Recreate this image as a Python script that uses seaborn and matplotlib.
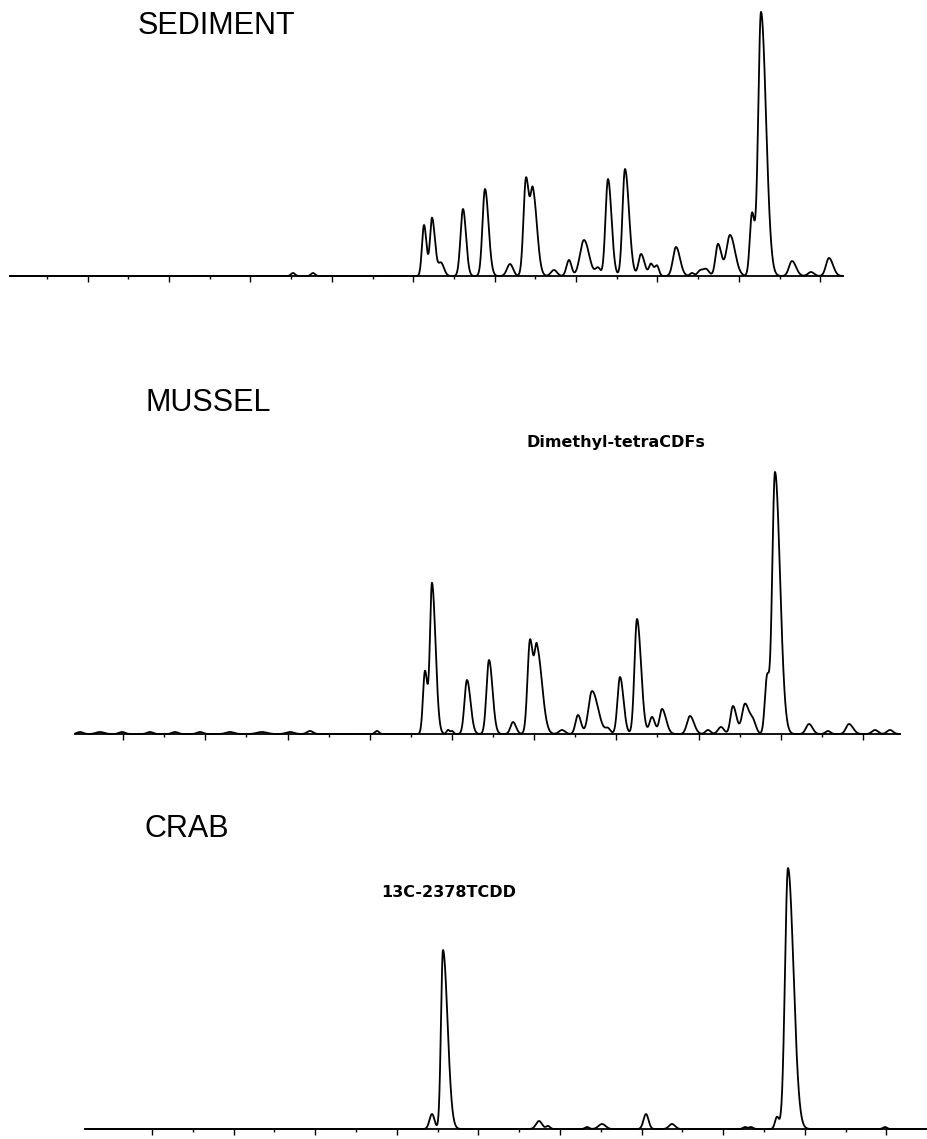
import numpy as np
import pandas as pd
import matplotlib
matplotlib.use("Agg")
import matplotlib.pyplot as plt
import seaborn as sns

# figure size in pixels (dpi 100)
W, H = 927, 1139

# peaks: (retention, height, left width, right width)
sediment_peaks = [
    (293, 3, 2, 2), (313, 3, 2, 2),
    (424, 51, 2, 2.5), (432, 58, 2, 3), (441, 13, 2.5, 3), (463, 67, 2.5, 3),
    (485, 87, 2.5, 3.5), (510, 12, 3, 3), (526, 97, 2.5, 3), (533, 82, 2.5, 4),
    (554, 6, 3, 3), (569, 16, 2.5, 2.5), (584, 36, 4, 5), (598, 8, 2.5, 2.5),
    (608, 97, 2.5, 3.5), (625, 107, 2.5, 4), (641, 22, 2.5, 3.5), (651, 12, 2, 2.5),
    (657, 10, 2, 2), (676, 29, 3, 4), (692, 3, 2, 2), (700, 5, 2.5, 2.5),
    (706, 7, 3, 3), (718, 32, 2.5, 3.5), (730, 41, 3.5, 5), (752, 62, 2.2, 2.5),
    (761, 264, 2.8, 5), (792, 15, 3, 4), (811, 4, 3, 3), (829, 18, 3, 4),
]
mussel_peaks = [
    (80, 2, 3, 3), (100, 2, 4, 4), (122, 2, 3, 3), (150, 2, 3, 3), (175, 2, 3, 3),
    (200, 2, 3, 3), (230, 2, 4, 4), (262, 2, 5, 5), (290, 2, 4, 4), (310, 3, 3, 3),
    (377, 3, 2, 2),
    (425, 63, 2, 2.5), (432, 150, 2, 3.5), (448, 4, 1.5, 1.5), (452, 3, 1.5, 1.5),
    (467, 54, 2.5, 3.5), (489, 74, 2.5, 3.5), (513, 12, 2.5, 3), (530, 93, 2.5, 3),
    (537, 84, 2.5, 5), (562, 4, 3, 3), (578, 19, 2.5, 3), (592, 43, 3.5, 6),
    (608, 5, 2.5, 2.5), (620, 57, 2.5, 3.5), (637, 115, 2.5, 4), (652, 17, 2.5, 3),
    (662, 25, 2.5, 4), (690, 18, 3, 4), (708, 4, 2.5, 2.5), (721, 7, 3, 3),
    (733, 28, 2.5, 3.5), (745, 30, 3, 4), (753, 12, 3, 3), (767, 55, 2.2, 2.2),
    (775, 262, 2.8, 5), (809, 10, 3, 3.5), (828, 3, 2.5, 2.5), (849, 10, 3, 4),
    (875, 4, 3, 3), (890, 4, 3, 3),
]
crab_peaks = [
    (432, 15, 2.5, 2.5), (443, 179, 2, 4.5), (539, 8, 3, 3), (548, 3, 2, 2),
    (587, 2, 2, 2), (602, 5, 3.5, 3.5), (646, 15, 2.5, 2.5), (672, 5, 3, 3),
    (745, 2, 2, 2), (751, 2, 2, 2), (777, 12, 2, 2), (788, 261, 3, 5.5),
    (885, 2, 2, 2),
]

# time axis ticks (major = long, minor = short)
sediment_major = [88, 169, 250, 332, 413, 495, 576, 657, 739, 820]
sediment_minor = [47, 128, 210, 291, 373, 454, 535, 617, 698, 780]
mussel_major = [123, 205, 288, 370, 452, 534, 616, 699, 781, 863]
mussel_minor = [164, 246, 329, 411, 493, 575, 657, 740, 822]
crab_major = [152, 234, 315, 397, 478, 560, 642, 723, 805, 886]
crab_minor = [193, 274, 356, 438, 519, 601, 682, 764, 846]

sample_names = ["SEDIMENT", "MUSSEL", "CRAB"]
peak_labels = ["Dimethyl-tetraCDFs", "13C-2378TCDD"]


def make_trace(peaks, x0, x1):
    """Sum the peaks (split gaussians) into one detector trace."""
    x = np.linspace(x0, x1, int((x1 - x0) * 8))
    y = np.zeros_like(x)
    for c, h, sl, sr in peaks:
        s = np.where(x < c, sl, sr)
        y += h * np.exp(-0.5 * ((x - c) / s) ** 2)
    return pd.DataFrame({"rt": x, "signal": y})


sns.set_theme(style="ticks")
plt.rcParams["font.family"] = ["Liberation Sans", "DejaVu Sans"]

fig = plt.figure(figsize=(W / 100, H / 100), dpi=100)
fig.patch.set_facecolor("white")

# (peaks, trace start, trace end, baseline row, top row, major, minor)
panels = [
    (sediment_peaks, 10, 843, 276, 0, sediment_major, sediment_minor),
    (mussel_peaks, 75, 900, 734, 300, mussel_major, mussel_minor),
    (crab_peaks, 85, 927, 1129, 760, crab_major, crab_minor),
]

for peaks, x0, x1, base, top, major, minor in panels:
    pad = 8
    ax = fig.add_axes([0, 1 - (base + pad) / H, 1, (base + pad - top) / H])
    ax.set_xlim(0, W)
    ax.set_ylim(-pad, base - top)
    df = make_trace(peaks, x0, x1)
    sns.lineplot(data=df, x="rt", y="signal", ax=ax, color="black",
                 linewidth=1.3, estimator=None, sort=False)
    for side in ["top", "left", "right"]:
        ax.spines[side].set_visible(False)
    ax.spines["bottom"].set_position(("data", 0))
    ax.spines["bottom"].set_bounds(x0, x1)
    ax.spines["bottom"].set_linewidth(1.3)
    ax.spines["bottom"].set_color("black")
    ax.set_xticks(major)
    ax.set_xticks(minor, minor=True)
    ax.tick_params(axis="x", which="major", direction="out", length=4.5,
                   width=1.0, color="black", labelbottom=False)
    ax.tick_params(axis="x", which="minor", direction="out", length=2.2,
                   width=1.0, color="black", bottom=True)
    ax.set_yticks([])
    ax.set_xlabel("")
    ax.set_ylabel("")
    ax.patch.set_alpha(0)


def put_text(s, x, y, **kw):
    fig.text(x / W, 1 - y / H, s, ha="left", va="baseline", color="black", **kw)


put_text(sample_names[0], 138, 34, fontsize=22)
put_text(sample_names[1], 146, 411, fontsize=22)
put_text(sample_names[2], 145, 837, fontsize=22)
put_text(peak_labels[0], 527, 447, fontsize=11.5, fontweight="bold",
         family="DejaVu Sans")
put_text(peak_labels[1], 381, 897, fontsize=11.5, fontweight="bold",
         family="DejaVu Sans")

fig.savefig("out.png", dpi=100, facecolor="white")
